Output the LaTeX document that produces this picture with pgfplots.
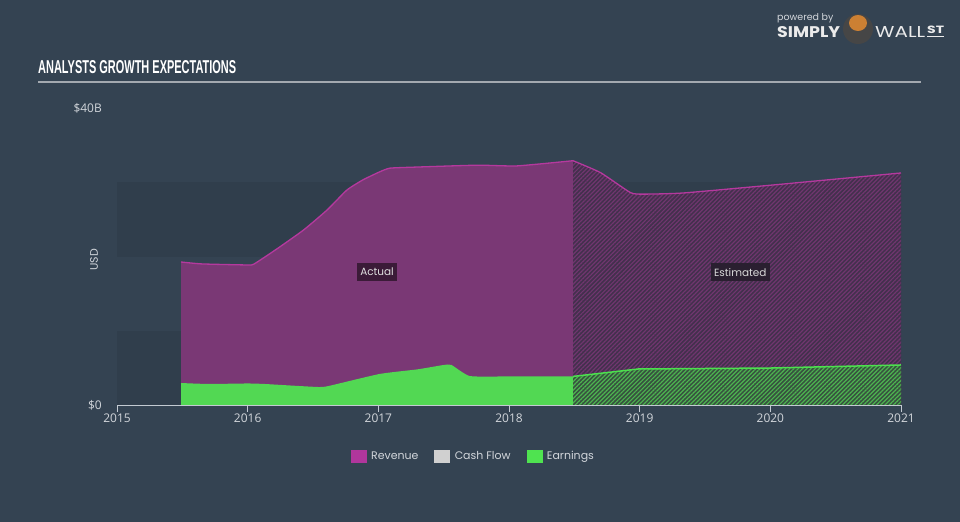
\documentclass[border=0pt]{standalone}
\usepackage{pgfplots}
\usepackage{pgfplotstable}
\pgfplotsset{compat=1.18}
\usepackage{fontspec}
\setmainfont{Poppins}
\newfontfamily\tickfont{Open Sans}
\newfontfamily\titlefont{Liberation Sans}
\usetikzlibrary{patterns.meta}
\definecolor{bg}{HTML}{344352}
\definecolor{band}{HTML}{303E4C}
\definecolor{revfill}{HTML}{7A3875}
\definecolor{revline}{HTML}{B5399E}
\definecolor{earnfill}{HTML}{52D853}
\definecolor{estrevbase}{HTML}{43304D}
\definecolor{estrevhatch}{HTML}{70366F}
\definecolor{estearnbase}{HTML}{37523F}
\definecolor{estearnhatch}{HTML}{4DB450}
\definecolor{estearnline}{HTML}{4CE04E}
\definecolor{ticktext}{HTML}{D2D6DB}
\definecolor{axisline}{HTML}{C3CAD2}
\definecolor{cashflow}{HTML}{D0D0D0}
\definecolor{legrev}{HTML}{B0369C}
\definecolor{leggreen}{HTML}{4FE350}
\definecolor{actbox}{HTML}{3B1B38}
\definecolor{estbox}{HTML}{2A1F30}
\definecolor{titleline}{HTML}{A3A9B0}

\pgfplotstableread{
x y
2015.49 19.26
2015.65 19.00
2016.00 18.86
2016.05 19.00
2016.23 21.10
2016.43 23.60
2016.61 26.30
2016.76 28.96
2016.88 30.30
2017.01 31.40
2017.09 31.90
2017.30 32.05
2017.76 32.30
2018.06 32.20
2018.49 32.90
}\revact
\pgfplotstableread{
x y
2018.49 32.90
2018.70 31.30
2018.93 28.60
2019.03 28.40
2019.33 28.55
2020.00 29.60
2021.00 31.25
}\revest
\pgfplotstableread{
x y
2015.49 2.96
2015.70 2.83
2016.00 2.90
2016.13 2.83
2016.40 2.55
2016.55 2.42
2016.62 2.56
2017.01 4.18
2017.30 4.80
2017.50 5.39
2017.56 5.39
2017.70 3.90
2018.00 3.85
2018.49 3.85
}\earnact
\pgfplotstableread{
x y
2018.49 3.85
2018.99 4.85
2020.00 4.98
2021.00 5.39
}\earnest

\begin{document}
\begin{tikzpicture}
\useasboundingbox (0,0) rectangle (960bp,522bp);
\fill[bg] (0,0) rectangle (960bp,522bp);
% title
\node[anchor=south west, inner sep=0, text=white] at (38bp,448bp)
  {\resizebox{198bp}{13bp}{\titlefont\bfseries ANALYSTS GROWTH EXPECTATIONS}};
\draw[titleline, line width=1.5bp] (38bp,440bp) -- (921bp,440bp);
% logo
\node[anchor=south west, inner sep=0, text=ticktext] at (777bp,499bp)
  {\fontsize{9.5}{10}\selectfont powered by};
\node[anchor=south west, inner sep=0, text=white!92!black] at (777bp,484bp)
  {\resizebox{63bp}{11bp}{\bfseries SIMPLY}};
\fill[gray!55!black] (858bp,493bp) circle (15bp);
\fill[brown!80!orange] (858bp,499bp) ellipse (9bp and 8bp);
\node[anchor=south west, inner sep=0, text=white!92!black] at (875bp,484bp)
  {\resizebox{50bp}{11bp}{WALL}};
\node[anchor=south west, inner sep=0, text=white!92!black] at (927bp,488bp)
  {\resizebox{17bp}{7.5bp}{\bfseries ST}};
\draw[white!92!black, line width=1.2bp] (927bp,485.5bp) -- (944bp,485.5bp);
% y label
\node[rotate=90, text=ticktext, inner sep=0] at (94bp,262bp)
  {\fontsize{11}{12}\selectfont USD};
\begin{axis}[
  at={(117bp,117bp)}, anchor=south west,
  scale only axis, width=784bp, height=297bp,
  xmin=2015, xmax=2021, ymin=0, ymax=40,
  axis x line*=bottom, axis y line*=left,
  axis line style={draw=axisline, line width=1.2bp, -},
  y axis line style={draw=none},
  xtick={2015,2016,2017,2018,2019,2020,2021},
  xticklabels={2015,2016,2017,2018,2019,2020,2021},
  ytick={0,40}, yticklabels={\$0,\$40B},
  tick align=outside, major tick length=7bp,
  x tick style={draw=axisline, line width=1bp},
  y tick style={draw=none},
  xticklabel style={font=\tickfont\fontsize{12}{13}\selectfont, text=ticktext, inner sep=0, yshift=-2bp, anchor=north},
  yticklabel style={font=\tickfont\fontsize{12}{13}\selectfont, text=ticktext, inner sep=0, anchor=east, xshift=-8bp},
  /pgf/number format/assume math mode=true,
  legend style={at={(axis description cs:0.4545,-0.172)}, anchor=center, draw=none, fill=none,
    text=ticktext, font=\fontsize{11}{12}\selectfont, legend columns=3,
    /tikz/every even column/.append style={column sep=14bp},
    legend cell align=left},
  legend image code/.code={\fill[#1] (0bp,-6bp) rectangle (15bp,6bp);\path (18bp,0);},
]
\fill[band] (axis cs:2015,0) rectangle (axis cs:2021,10);
\fill[band] (axis cs:2015,20) rectangle (axis cs:2021,30);
% actual revenue
\addplot[fill=revfill, draw=none, smooth, tension=0.3, forget plot] table {\revact} \closedcycle;
\addplot[revline, line width=1.3bp, smooth, tension=0.3, forget plot] table {\revact};
% estimated revenue
\addplot[fill=estrevbase, draw=none, smooth, tension=0.3, forget plot] table {\revest} \closedcycle;
\addplot[pattern={Lines[angle=45,distance=3bp,line width=1.2bp]}, pattern color=estrevhatch, draw=none, smooth, tension=0.3, forget plot] table {\revest} \closedcycle;
\addplot[revline, line width=1.3bp, smooth, tension=0.3, forget plot] table {\revest};
% actual earnings
\addplot[fill=earnfill, draw=none, smooth, tension=0.3, forget plot] table {\earnact} \closedcycle;
% estimated earnings
\addplot[fill=estearnbase, draw=none, forget plot] table {\earnest} \closedcycle;
\addplot[pattern={Lines[angle=45,distance=3bp,line width=1.2bp]}, pattern color=estearnhatch, draw=none, forget plot] table {\earnest} \closedcycle;
\addplot[estearnline, line width=1.5bp, forget plot] table {\earnest};
% labels
\node[fill=actbox, text=white!88!black, inner xsep=3.5bp, inner ysep=5bp, font=\fontsize{10.5}{11}\selectfont] at (axis cs:2016.99,17.9) {Actual};
\node[fill=estbox, text=white!85!black, inner xsep=3.5bp, inner ysep=5bp, font=\fontsize{10.5}{11}\selectfont] at (axis cs:2019.77,17.9) {Estimated};
% legend
\addlegendimage{legrev}
\addlegendentry{Revenue}
\addlegendimage{cashflow}
\addlegendentry{Cash Flow}
\addlegendimage{leggreen}
\addlegendentry{Earnings}
\end{axis}
\end{tikzpicture}
\end{document}
